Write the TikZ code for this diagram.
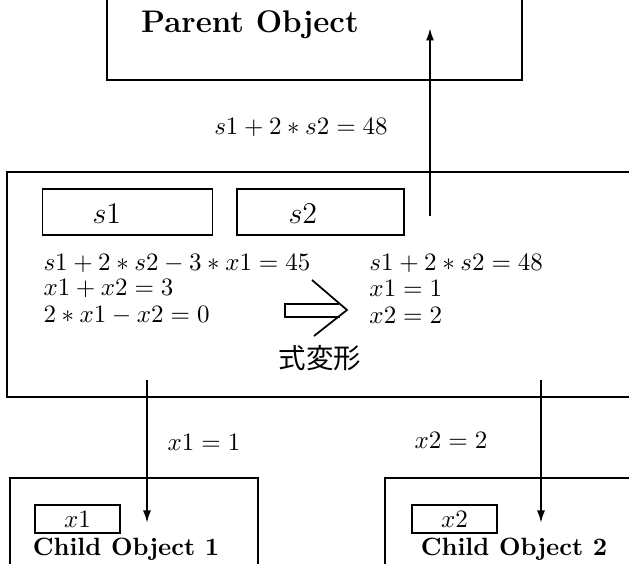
\documentclass[tikz,border=0pt]{standalone}
\usepackage{fontspec}
\newfontfamily\cjk{Noto Sans CJK JP}
\usetikzlibrary{arrows.meta}
\begin{document}
\begin{tikzpicture}[x=0.4pt,y=-0.4pt,
  frame/.style={line width=0.6pt},
  varbox/.style={draw,line width=0.6pt,inner sep=0pt,minimum width=68pt,minimum height=18.4pt},
  smallbox/.style={draw,line width=0.6pt,inner sep=0pt,minimum width=34pt,minimum height=11.2pt},
  conn/.style={line width=0.8pt,-{Latex[length=5pt,width=3.2pt]}},
  eq/.style={anchor=west,inner sep=0pt,font=\fontsize{10.4pt}{12pt}\selectfont}]
\useasboundingbox (0,0) rectangle (629,564);
% parent object (open at top)
\draw[frame] (107,0) -- (107,80) -- (522,80) -- (522,0);
\node[font=\fontsize{12.5pt}{15pt}\selectfont\bfseries] (parent) at (250,25) {Parent Object};
% middle object
\draw[frame] (629,172) -- (7,172) -- (7,397) -- (629,397);
\node[varbox] (s1) at (127.5,212) {};
\node[anchor=west,inner sep=0pt,font=\large] (s1t) at (92,214) {$s1$};
\node[varbox,minimum width=66.8pt] (s2) at (320.5,212) {};
\node[anchor=west,inner sep=0pt,font=\large] (s2t) at (288,214) {$s2$};
\node[eq] (l1) at (43,263) {$s1+2*s2-3*x1=45$};
\node[eq] (l2) at (43,288) {$x1+x2=3$};
\node[eq] (l3) at (43,315) {$2*x1-x2=0$};
\node[eq] (r1) at (369,263) {$s1+2*s2=48$};
\node[eq] (r2) at (369,288) {$x1=1$};
\node[eq] (r3) at (369,315) {$x2=2$};
\node[font=\cjk\fontsize{11pt}{13pt}\selectfont] (henkei) at (320,358) {式変形};
% hollow arrow
\draw[line width=0.7pt] (339,304) -- (285,304) -- (285,317) -- (340,317);
\draw[line width=0.7pt] (312,280) -- (347,310) -- (314,336);
% connectors
\coordinate (upfrom) at (430,216);
\coordinate (upto) at (430,28);
\draw[conn] (upfrom) -- (upto);
\node[font=\fontsize{10.4pt}{12pt}\selectfont] (lab0) at (301,127) {$s1+2*s2=48$};
\coordinate (d1from) at (147,380);
\coordinate (d1to) at (147,523);
\draw[conn] (d1from) -- (d1to);
\node[font=\fontsize{10.4pt}{12pt}\selectfont] (lab1) at (204,442) {$x1=1$};
\coordinate (d2from) at (541,380);
\coordinate (d2to) at (541,523);
\draw[conn] (d2from) -- (d2to);
\node[font=\fontsize{10.4pt}{12pt}\selectfont] (lab2) at (451,440) {$x2=2$};
% child objects (open at bottom)
\draw[frame] (10,564) -- (10,478) -- (258,478) -- (258,564);
\node[smallbox] (x1) at (77.5,519) {$x1$};
\node[font=\bfseries] (c1) at (126,549) {Child Object 1};
\draw[frame] (385,564) -- (385,478) -- (629,478);
\node[smallbox] (x2) at (454.5,519) {$x2$};
\node[font=\bfseries] (c2) at (514,549) {Child Object 2};
\end{tikzpicture}
\end{document}
